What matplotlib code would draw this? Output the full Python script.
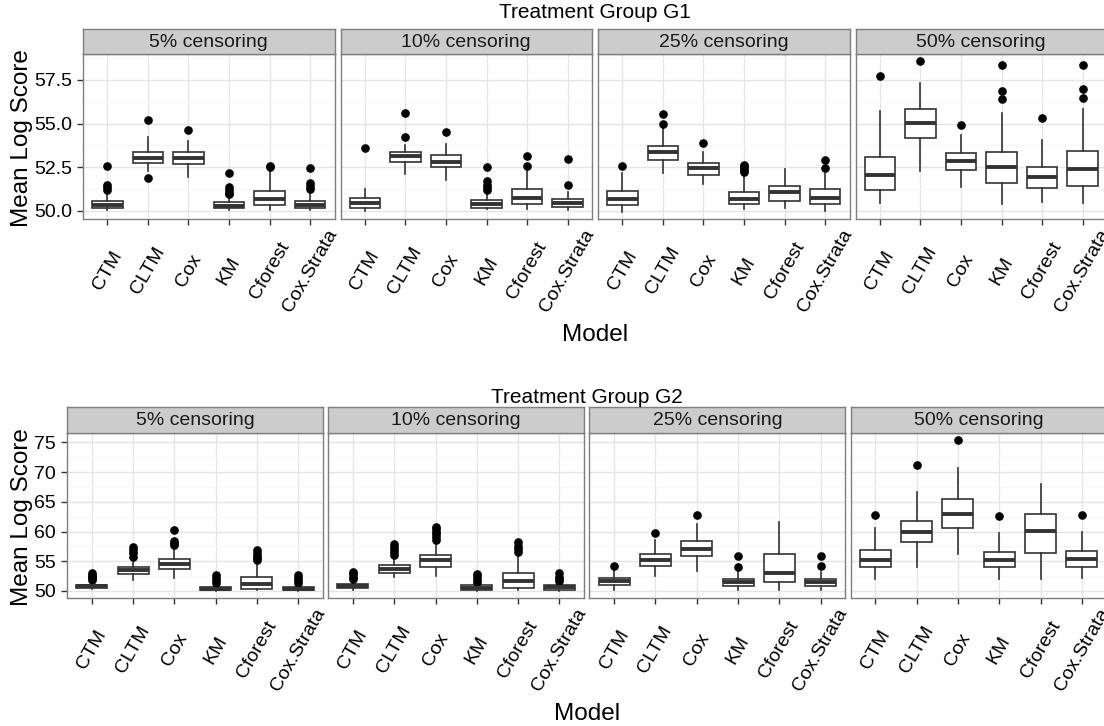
import matplotlib
matplotlib.use("Agg")
import matplotlib.pyplot as plt
import numpy as np

plt.rcParams['font.family'] = ['Liberation Sans', 'DejaVu Sans']

# ---------------- data ----------------
models = ["CTM", "CLTM", "Cox", "KM", "Cforest", "Cox.Strata"]
censoring = ["5% censoring", "10% censoring", "25% censoring", "50% censoring"]

# Treatment Group G1  (rows: censoring level, cols: model)
g1_median = [[50.34, 53.04, 53.04, 50.31, 50.69, 50.34],
             [50.46, 53.12, 52.79, 50.40, 50.77, 50.44],
             [50.69, 53.35, 52.45, 50.69, 51.07, 50.73],
             [52.05, 55.03, 52.83, 52.53, 51.93, 52.39]]
g1_q1 = [[50.15, 52.77, 52.70, 50.15, 50.36, 50.15],
         [50.17, 52.79, 52.54, 50.19, 50.38, 50.21],
         [50.34, 52.93, 52.05, 50.40, 50.55, 50.40],
         [51.19, 54.15, 52.33, 51.61, 51.34, 51.45]]
g1_q3 = [[50.55, 53.39, 53.37, 50.50, 51.15, 50.55],
         [50.73, 53.40, 53.19, 50.63, 51.28, 50.69],
         [51.15, 53.73, 52.72, 51.11, 51.42, 51.24],
         [53.06, 55.85, 53.33, 53.35, 52.53, 53.44]]
g1_whislo = [[50.06, 52.26, 51.97, 50.08, 50.06, 50.08],
             [50.00, 52.12, 51.78, 50.10, 50.10, 50.06],
             [49.92, 52.20, 51.55, 50.10, 50.15, 50.02],
             [50.44, 52.26, 51.36, 50.40, 50.50, 50.44]]
g1_whishi = [[50.92, 54.21, 53.98, 50.73, 52.26, 51.00],
             [51.26, 53.79, 53.83, 51.01, 52.39, 51.10],
             [52.16, 54.74, 53.37, 52.16, 52.41, 52.16],
             [55.74, 57.33, 54.34, 55.59, 54.07, 55.85]]
g1_fliers = [[[52.60, 51.50, 51.35, 51.20], [55.18, 51.91], [54.61],
              [52.20, 51.35, 51.20, 51.00, 50.95], [52.54, 52.58], [52.45, 51.60, 51.45, 51.25]],
             [[53.60], [54.21, 55.60], [54.50], [52.54, 51.70, 51.50, 51.35, 51.20],
              [52.60, 53.12], [51.50, 52.98]],
             [[52.60], [54.99, 55.57], [53.86], [52.25, 52.35, 52.45, 52.55, 52.65],
              [], [52.45, 52.89]],
             [[57.71], [58.57], [54.90], [58.36, 56.85, 56.41], [55.32], [58.36, 56.98, 56.45]]]

# Treatment Group G2
g2_median = [[50.78, 53.47, 54.59, 50.39, 51.12, 50.39],
             [50.84, 53.75, 55.15, 50.56, 51.62, 50.67],
             [51.62, 55.15, 57.10, 51.45, 53.08, 51.45],
             [55.15, 59.90, 63.03, 55.15, 60.01, 55.31]]
g2_q1 = [[50.50, 52.91, 53.69, 50.11, 50.39, 50.11],
         [50.50, 53.02, 54.03, 50.22, 50.56, 50.22],
         [51.00, 54.19, 55.82, 50.89, 51.51, 50.89],
         [54.03, 58.17, 60.63, 54.03, 56.43, 54.03]]
g2_q3 = [[51.06, 54.03, 55.31, 50.67, 52.35, 50.67],
         [51.23, 54.42, 56.10, 50.95, 53.08, 51.06],
         [52.24, 56.15, 58.39, 51.96, 56.21, 52.07],
         [56.88, 61.80, 65.44, 56.60, 62.92, 56.66]]
g2_whislo = [[50.34, 51.79, 52.18, 50.00, 50.10, 50.00],
             [50.22, 52.35, 52.46, 50.00, 50.10, 50.00],
             [50.22, 52.57, 53.30, 50.20, 50.22, 50.20],
             [51.96, 54.03, 56.26, 51.96, 52.01, 52.18]]
g2_whishi = [[51.34, 55.43, 57.10, 51.23, 54.87, 51.10],
             [51.79, 55.70, 58.22, 51.34, 56.38, 51.45],
             [53.47, 58.50, 61.19, 53.19, 61.58, 53.19],
             [60.57, 66.61, 70.64, 59.73, 67.95, 59.84]]
g2_fliers = [[[51.80, 52.10, 52.35, 52.60, 53.00], [55.70, 56.38, 56.94, 57.38],
              [57.66, 58.00, 58.33, 60.24], [51.40, 51.79, 52.24, 52.74],
              [55.15, 55.50, 55.80, 56.38, 56.94], [51.40, 51.79, 52.24, 52.74]],
             [[52.00, 52.40, 52.80, 53.20], [56.00, 56.50, 57.00, 57.40, 57.83],
              [58.50, 59.00, 59.50, 60.00, 60.40, 60.74], [51.50, 52.00, 52.50, 52.90],
              [56.50, 57.00, 57.50, 58.22], [51.60, 52.00, 52.40, 53.00]],
             [[54.25], [59.73], [62.86], [54.03, 55.87], [], [54.19, 55.87]],
             [[62.81], [71.20], [75.39], [62.64], [], [62.81]]]

group_titles = ["Treatment Group G1", "Treatment Group G2"]
g1_yticks = [50.0, 52.5, 55.0, 57.5]
g1_yticklabels = ["50.0", "52.5", "55.0", "57.5"]
g2_yticks = [50, 55, 60, 65, 70, 75]
g2_yticklabels = ["50", "55", "60", "65", "70", "75"]

# ---------------- layout ----------------
W, H = 1104, 726
fig = plt.figure(figsize=(W / 100, H / 100), dpi=100)


def px_axes(x0, y0, x1, y1):
    return fig.add_axes([x0 / W, 1 - y1 / H, (x1 - x0) / W, (y1 - y0) / H])


rows = [
    dict(title=group_titles[0], med=g1_median, q1=g1_q1, q3=g1_q3, lo=g1_whislo, hi=g1_whishi,
         fl=g1_fliers, left=83, pw=251.5, gap=6.0, strip_top=29, top=54, bottom=219,
         ylim=(49.54, 58.98), yticks=g1_yticks, ylabels=g1_yticklabels,
         minor=[51.25, 53.75, 56.25, 58.75], title_base=18, model_base=341),
    dict(title=group_titles[1], med=g2_median, q1=g2_q1, q3=g2_q3, lo=g2_whislo, hi=g2_whishi,
         fl=g2_fliers, left=67, pw=256.0, gap=5.2, strip_top=407, top=433, bottom=598,
         ylim=(48.8, 76.6), yticks=g2_yticks, ylabels=g2_yticklabels,
         minor=[52.5, 57.5, 62.5, 67.5, 72.5], title_base=403, model_base=720.5),
]

box_col = '#333333'
border_col = '#7F7F7F'

for r in rows:
    for k, cens in enumerate(censoring):
        x0 = r['left'] + k * (r['pw'] + r['gap'])
        x1 = x0 + r['pw']
        ax = px_axes(x0, r['top'], x1, r['bottom'])
        stats = []
        for j, m in enumerate(models):
            stats.append(dict(med=r['med'][k][j], q1=r['q1'][k][j], q3=r['q3'][k][j],
                              whislo=r['lo'][k][j], whishi=r['hi'][k][j],
                              fliers=r['fl'][k][j], label=m))
        ax.bxp(stats, positions=np.arange(1, len(models) + 1), widths=0.75,
               showcaps=False, patch_artist=True,
               boxprops=dict(facecolor='white', edgecolor=box_col, linewidth=1.2),
               whiskerprops=dict(color=box_col, linewidth=1.2),
               medianprops=dict(color=box_col, linewidth=2.8, solid_capstyle='butt'),
               flierprops=dict(marker='o', markerfacecolor='black', markeredgecolor='black',
                               markersize=5.2, linestyle='none'))
        ax.set_xlim(0.4, len(models) + 0.6)
        ax.set_ylim(*r['ylim'])
        ax.set_axisbelow(True)
        ax.set_yticks(r['yticks'])
        ax.set_yticks(r['minor'], minor=True)
        ax.grid(True, which='major', color='#E5E5E5', linewidth=1.0)
        ax.grid(True, which='minor', axis='y', color='#F7F7F7', linewidth=1.0)
        ax.tick_params(axis='y', which='minor', length=0)
        for sp in ax.spines.values():
            sp.set_color(border_col)
            sp.set_linewidth(1.0)
        ax.set_xticks(np.arange(1, len(models) + 1))
        ax.set_xticklabels(models, rotation=60, ha='center', va='center',
                           rotation_mode='anchor', fontsize=14)
        ax.tick_params(axis='x', which='major', length=4.4, width=1.0, color=box_col, pad=33)
        if k == 0:
            ax.set_yticklabels(r['ylabels'], fontsize=14)
            ax.tick_params(axis='y', which='major', length=4.6, width=1.0, color=box_col, pad=3.2)
        else:
            ax.tick_params(axis='y', which='major', length=0, labelleft=False)
        # strip
        sax = px_axes(x0, r['strip_top'], x1, r['top'])
        sax.set_facecolor('#CCCCCC')
        sax.set_xticks([])
        sax.set_yticks([])
        for sp in sax.spines.values():
            sp.set_color(border_col)
            sp.set_linewidth(1.0)
        sax.text(0.5, 0.47, cens, ha='center', va='center', fontsize=14,
                 transform=sax.transAxes, color='#1A1A1A')

    right_end = r['left'] + 4 * r['pw'] + 3 * r['gap']
    cx = (r['left'] + right_end) / 2
    fig.text(cx / W, 1 - r['title_base'] / H, r['title'], ha='center', va='baseline',
             fontsize=15)
    fig.text(cx / W, 1 - r['model_base'] / H, "Model", ha='center', va='baseline',
             fontsize=17.5)
    fig.text(22 / W, 1 - ((r['top'] + r['bottom']) / 2 + 2) / H, "Mean Log Score",
             rotation=90, ha='center', va='center', fontsize=17.5)

fig.savefig("out.png", dpi=100)
